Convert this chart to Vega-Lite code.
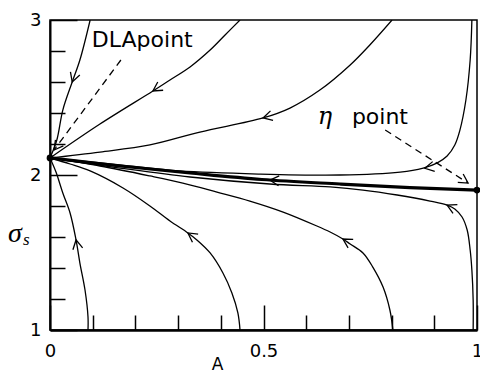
{
  "$schema": "https://vega.github.io/schema/vega-lite/v6.json",
  "width": 427,
  "height": 310,
  "autosize": {"type": "none"},
  "padding": {"left": 50, "top": 20, "right": 3, "bottom": 43},
  "background": "white",
  "config": {
    "view": {"stroke": "black", "strokeWidth": 1.5},
    "axis": {
      "grid": false,
      "tickColor": "black",
      "domainColor": "black",
      "labelColor": "black",
      "titleColor": "black",
      "labelFont": "DejaVu Sans",
      "labelFontSize": 18,
      "titleFont": "DejaVu Sans",
      "titleFontSize": 17,
      "titleFontWeight": "normal",
      "tickWidth": 1.5,
      "tickCount": 30,
      "labelFlush": false,
      "labelOverlap": false
    }
  },
  "datasets": {
    "flows": [
      {"curve": "L1", "k": 0, "A": 0.094, "sigma": 3.0},
      {"curve": "L1", "k": 1, "A": 0.070, "sigma": 2.742},
      {"curve": "L1", "k": 2, "A": 0.052, "sigma": 2.6},
      {"curve": "L1", "k": 3, "A": 0.030, "sigma": 2.419},
      {"curve": "L1", "k": 4, "A": 0.016, "sigma": 2.226},
      {"curve": "L1", "k": 5, "A": 0.0, "sigma": 2.11},

      {"curve": "L2", "k": 0, "A": 0.445, "sigma": 3.0},
      {"curve": "L2", "k": 1, "A": 0.410, "sigma": 2.903},
      {"curve": "L2", "k": 2, "A": 0.375, "sigma": 2.806},
      {"curve": "L2", "k": 3, "A": 0.328, "sigma": 2.697},
      {"curve": "L2", "k": 4, "A": 0.281, "sigma": 2.613},
      {"curve": "L2", "k": 5, "A": 0.241, "sigma": 2.542},
      {"curve": "L2", "k": 6, "A": 0.117, "sigma": 2.329},
      {"curve": "L2", "k": 7, "A": 0.0, "sigma": 2.11},

      {"curve": "L3", "k": 0, "A": 0.801, "sigma": 3.0},
      {"curve": "L3", "k": 1, "A": 0.749, "sigma": 2.839},
      {"curve": "L3", "k": 2, "A": 0.703, "sigma": 2.71},
      {"curve": "L3", "k": 3, "A": 0.632, "sigma": 2.548},
      {"curve": "L3", "k": 4, "A": 0.562, "sigma": 2.432},
      {"curve": "L3", "k": 5, "A": 0.499, "sigma": 2.368},
      {"curve": "L3", "k": 6, "A": 0.351, "sigma": 2.277},
      {"curve": "L3", "k": 7, "A": 0.234, "sigma": 2.194},
      {"curve": "L3", "k": 8, "A": 0.117, "sigma": 2.148},
      {"curve": "L3", "k": 9, "A": 0.0, "sigma": 2.11},

      {"curve": "L4", "k": 0, "A": 0.988, "sigma": 3.0},
      {"curve": "L4", "k": 1, "A": 0.984, "sigma": 2.742},
      {"curve": "L4", "k": 2, "A": 0.974, "sigma": 2.484},
      {"curve": "L4", "k": 3, "A": 0.960, "sigma": 2.29},
      {"curve": "L4", "k": 4, "A": 0.948, "sigma": 2.194},
      {"curve": "L4", "k": 5, "A": 0.930, "sigma": 2.123},
      {"curve": "L4", "k": 6, "A": 0.906, "sigma": 2.077},
      {"curve": "L4", "k": 7, "A": 0.874, "sigma": 2.045},
      {"curve": "L4", "k": 8, "A": 0.820, "sigma": 2.019},
      {"curve": "L4", "k": 9, "A": 0.679, "sigma": 2.0},
      {"curve": "L4", "k": 10, "A": 0.492, "sigma": 2.006},
      {"curve": "L4", "k": 11, "A": 0.304, "sigma": 2.026},
      {"curve": "L4", "k": 12, "A": 0.164, "sigma": 2.065},
      {"curve": "L4", "k": 13, "A": 0.0, "sigma": 2.11},

      {"curve": "L5", "k": 0, "A": 0.991, "sigma": 1.0},
      {"curve": "L5", "k": 1, "A": 0.991, "sigma": 1.194},
      {"curve": "L5", "k": 2, "A": 0.988, "sigma": 1.387},
      {"curve": "L5", "k": 3, "A": 0.984, "sigma": 1.516},
      {"curve": "L5", "k": 4, "A": 0.977, "sigma": 1.645},
      {"curve": "L5", "k": 5, "A": 0.965, "sigma": 1.729},
      {"curve": "L5", "k": 6, "A": 0.948, "sigma": 1.781},
      {"curve": "L5", "k": 7, "A": 0.930, "sigma": 1.806},
      {"curve": "L5", "k": 8, "A": 0.890, "sigma": 1.832},
      {"curve": "L5", "k": 9, "A": 0.813, "sigma": 1.871},
      {"curve": "L5", "k": 10, "A": 0.733, "sigma": 1.903},
      {"curve": "L5", "k": 11, "A": 0.656, "sigma": 1.923},
      {"curve": "L5", "k": 12, "A": 0.515, "sigma": 1.942},
      {"curve": "L5", "k": 13, "A": 0.328, "sigma": 1.987},
      {"curve": "L5", "k": 14, "A": 0.164, "sigma": 2.045},
      {"curve": "L5", "k": 15, "A": 0.0, "sigma": 2.11},

      {"curve": "L6", "k": 0, "A": 0.803, "sigma": 1.0},
      {"curve": "L6", "k": 1, "A": 0.796, "sigma": 1.129},
      {"curve": "L6", "k": 2, "A": 0.780, "sigma": 1.277},
      {"curve": "L6", "k": 3, "A": 0.756, "sigma": 1.406},
      {"curve": "L6", "k": 4, "A": 0.733, "sigma": 1.497},
      {"curve": "L6", "k": 5, "A": 0.703, "sigma": 1.555},
      {"curve": "L6", "k": 6, "A": 0.686, "sigma": 1.587},
      {"curve": "L6", "k": 7, "A": 0.656, "sigma": 1.632},
      {"curve": "L6", "k": 8, "A": 0.625, "sigma": 1.671},
      {"curve": "L6", "k": 9, "A": 0.546, "sigma": 1.761},
      {"curve": "L6", "k": 10, "A": 0.468, "sigma": 1.832},
      {"curve": "L6", "k": 11, "A": 0.391, "sigma": 1.890},
      {"curve": "L6", "k": 12, "A": 0.311, "sigma": 1.948},
      {"curve": "L6", "k": 13, "A": 0.234, "sigma": 1.994},
      {"curve": "L6", "k": 14, "A": 0.117, "sigma": 2.058},
      {"curve": "L6", "k": 15, "A": 0.0, "sigma": 2.11},

      {"curve": "L7", "k": 0, "A": 0.445, "sigma": 1.0},
      {"curve": "L7", "k": 1, "A": 0.440, "sigma": 1.110},
      {"curve": "L7", "k": 2, "A": 0.426, "sigma": 1.239},
      {"curve": "L7", "k": 3, "A": 0.405, "sigma": 1.368},
      {"curve": "L7", "k": 4, "A": 0.375, "sigma": 1.497},
      {"curve": "L7", "k": 5, "A": 0.344, "sigma": 1.581},
      {"curve": "L7", "k": 6, "A": 0.323, "sigma": 1.626},
      {"curve": "L7", "k": 7, "A": 0.281, "sigma": 1.703},
      {"curve": "L7", "k": 8, "A": 0.234, "sigma": 1.800},
      {"curve": "L7", "k": 9, "A": 0.171, "sigma": 1.916},
      {"curve": "L7", "k": 10, "A": 0.094, "sigma": 2.026},
      {"curve": "L7", "k": 11, "A": 0.047, "sigma": 2.071},
      {"curve": "L7", "k": 12, "A": 0.0, "sigma": 2.11},

      {"curve": "L8", "k": 0, "A": 0.089, "sigma": 1.0},
      {"curve": "L8", "k": 1, "A": 0.089, "sigma": 1.084},
      {"curve": "L8", "k": 2, "A": 0.082, "sigma": 1.258},
      {"curve": "L8", "k": 3, "A": 0.070, "sigma": 1.432},
      {"curve": "L8", "k": 4, "A": 0.061, "sigma": 1.581},
      {"curve": "L8", "k": 5, "A": 0.047, "sigma": 1.755},
      {"curve": "L8", "k": 6, "A": 0.030, "sigma": 1.884},
      {"curve": "L8", "k": 7, "A": 0.014, "sigma": 2.019},
      {"curve": "L8", "k": 8, "A": 0.0, "sigma": 2.11}
    ],
    "thick": [
      {"A": 0.0, "sigma": 2.11},
      {"A": 0.164, "sigma": 2.058},
      {"A": 0.328, "sigma": 2.013},
      {"A": 0.496, "sigma": 1.971},
      {"A": 0.679, "sigma": 1.942},
      {"A": 0.843, "sigma": 1.919},
      {"A": 1.0, "sigma": 1.903}
    ],
    "pointers": [
      {"name": "DLA", "k": 0, "A": 0.166, "sigma": 2.742},
      {"name": "DLA", "k": 1, "A": 0.0094, "sigma": 2.161},
      {"name": "eta", "k": 0, "A": 0.785, "sigma": 2.29},
      {"name": "eta", "k": 1, "A": 0.979, "sigma": 1.948}
    ],
    "heads": [
      {"A": 0.052, "sigma": 2.6, "dir": 109},
      {"A": 0.241, "sigma": 2.542, "dir": 147},
      {"A": 0.499, "sigma": 2.368, "dir": 165},
      {"A": 0.878, "sigma": 2.043, "dir": 168},
      {"A": 0.515, "sigma": 1.967, "dir": 184},
      {"A": 0.930, "sigma": 1.806, "dir": 206},
      {"A": 0.686, "sigma": 1.587, "dir": 211},
      {"A": 0.323, "sigma": 1.626, "dir": 215},
      {"A": 0.061, "sigma": 1.581, "dir": 259},
      {"A": 0.0094, "sigma": 2.161, "dir": 127},
      {"A": 0.979, "sigma": 1.948, "dir": 33}
    ],
    "fixed": [
      {"A": 0.0, "sigma": 2.11},
      {"A": 1.0, "sigma": 1.903}
    ]
  },
  "layer": [
    {
      "data": {"name": "flows"},
      "mark": {"type": "line", "interpolate": "catmull-rom", "color": "black", "strokeWidth": 1.3, "clip": true},
      "encoding": {
        "x": {
          "field": "A", "type": "quantitative",
          "scale": {"domain": [0, 1], "nice": false, "zero": false},
          "axis": {"orient": "bottom", "values": [0.1, 0.2, 0.3, 0.4, 0.6, 0.7, 0.8, 0.9], "tickCount": 30, "tickSize": -15, "labels": false, "domain": false, "title": null}
        },
        "y": {
          "field": "sigma", "type": "quantitative",
          "scale": {"domain": [1, 3], "nice": false, "zero": false},
          "axis": {"orient": "left", "values": [1.2, 1.4, 1.6, 1.8, 2.2, 2.4, 2.6, 2.8], "tickCount": 30, "tickSize": -15, "labels": false, "domain": false, "title": null}
        },
        "detail": {"field": "curve"},
        "order": {"field": "k", "type": "quantitative"}
      }
    },
    {
      "data": {"name": "thick"},
      "mark": {"type": "line", "interpolate": "monotone", "color": "black", "strokeWidth": 3.2},
      "encoding": {
        "x": {
          "field": "A", "type": "quantitative",
          "scale": {"domain": [0, 1], "nice": false, "zero": false},
          "axis": {"orient": "bottom", "values": [0, 0.5, 1], "tickCount": 30, "format": "~g", "tickSize": -25, "labelPadding": 37, "labelBaseline": "top", "domainWidth": 2.5, "title": "A", "titleX": 167, "titleY": 34, "titleBaseline": "middle", "titleAlign": "center"}
        },
        "y": {
          "field": "sigma", "type": "quantitative",
          "scale": {"domain": [1, 3], "nice": false, "zero": false},
          "axis": {"orient": "left", "values": [1, 2, 3], "tickCount": 30, "format": "~g", "tickSize": -27, "labelPadding": 36, "domainWidth": 2, "title": null}
        }
      }
    },
    {
      "data": {"name": "pointers"},
      "mark": {"type": "line", "color": "black", "strokeWidth": 1.3, "strokeDash": [7, 5]},
      "encoding": {
        "x": {"field": "A", "type": "quantitative", "axis": null},
        "y": {"field": "sigma", "type": "quantitative", "axis": null},
        "detail": {"field": "name"},
        "order": {"field": "k", "type": "quantitative"}
      }
    },
    {
      "data": {"name": "heads"},
      "mark": {"type": "point", "shape": "M -1 -0.55 L 0 0 L -1 0.55", "filled": false, "size": 324, "strokeWidth": 1.3, "color": "black", "opacity": 1},
      "encoding": {
        "x": {"field": "A", "type": "quantitative", "axis": null},
        "y": {"field": "sigma", "type": "quantitative", "axis": null},
        "angle": {"field": "dir", "type": "quantitative", "scale": null}
      }
    },
    {
      "data": {"name": "fixed"},
      "mark": {"type": "circle", "size": 45, "color": "black", "opacity": 1},
      "encoding": {
        "x": {"field": "A", "type": "quantitative", "axis": null},
        "y": {"field": "sigma", "type": "quantitative", "axis": null}
      }
    },
    {
      "data": {"values": [
        {"label": "DLApoint", "A": 0.098, "sigma": 2.828},
        {"label": "point", "A": 0.707, "sigma": 2.329}
      ]},
      "mark": {"type": "text", "font": "DejaVu Sans", "fontSize": 22, "align": "left", "baseline": "alphabetic", "color": "black"},
      "encoding": {
        "x": {"field": "A", "type": "quantitative", "axis": null},
        "y": {"field": "sigma", "type": "quantitative", "axis": null},
        "text": {"field": "label"}
      }
    },
    {
      "data": {"values": [{"label": "η", "A": 0.644, "sigma": 2.329}]},
      "mark": {"type": "text", "font": "DejaVu Serif", "fontStyle": "italic", "fontSize": 24, "align": "center", "baseline": "alphabetic", "color": "black"},
      "encoding": {
        "x": {"field": "A", "type": "quantitative", "axis": null},
        "y": {"field": "sigma", "type": "quantitative", "axis": null},
        "text": {"field": "label"}
      }
    },
    {
      "data": {"values": [{"label": "σ", "A": -0.082, "sigma": 1.568}]},
      "mark": {"type": "text", "font": "Liberation Serif", "fontStyle": "italic", "fontSize": 28, "align": "center", "baseline": "alphabetic", "color": "black"},
      "encoding": {
        "x": {"field": "A", "type": "quantitative", "axis": null},
        "y": {"field": "sigma", "type": "quantitative", "axis": null},
        "text": {"field": "label"}
      }
    },
    {
      "data": {"values": [{"label": "s", "A": -0.063, "sigma": 1.548}]},
      "mark": {"type": "text", "font": "Liberation Serif", "fontStyle": "italic", "fontSize": 17, "align": "left", "baseline": "alphabetic", "color": "black"},
      "encoding": {
        "x": {"field": "A", "type": "quantitative", "axis": null},
        "y": {"field": "sigma", "type": "quantitative", "axis": null},
        "text": {"field": "label"}
      }
    }
  ],
  "resolve": {"axis": {"x": "independent", "y": "independent"}}
}
